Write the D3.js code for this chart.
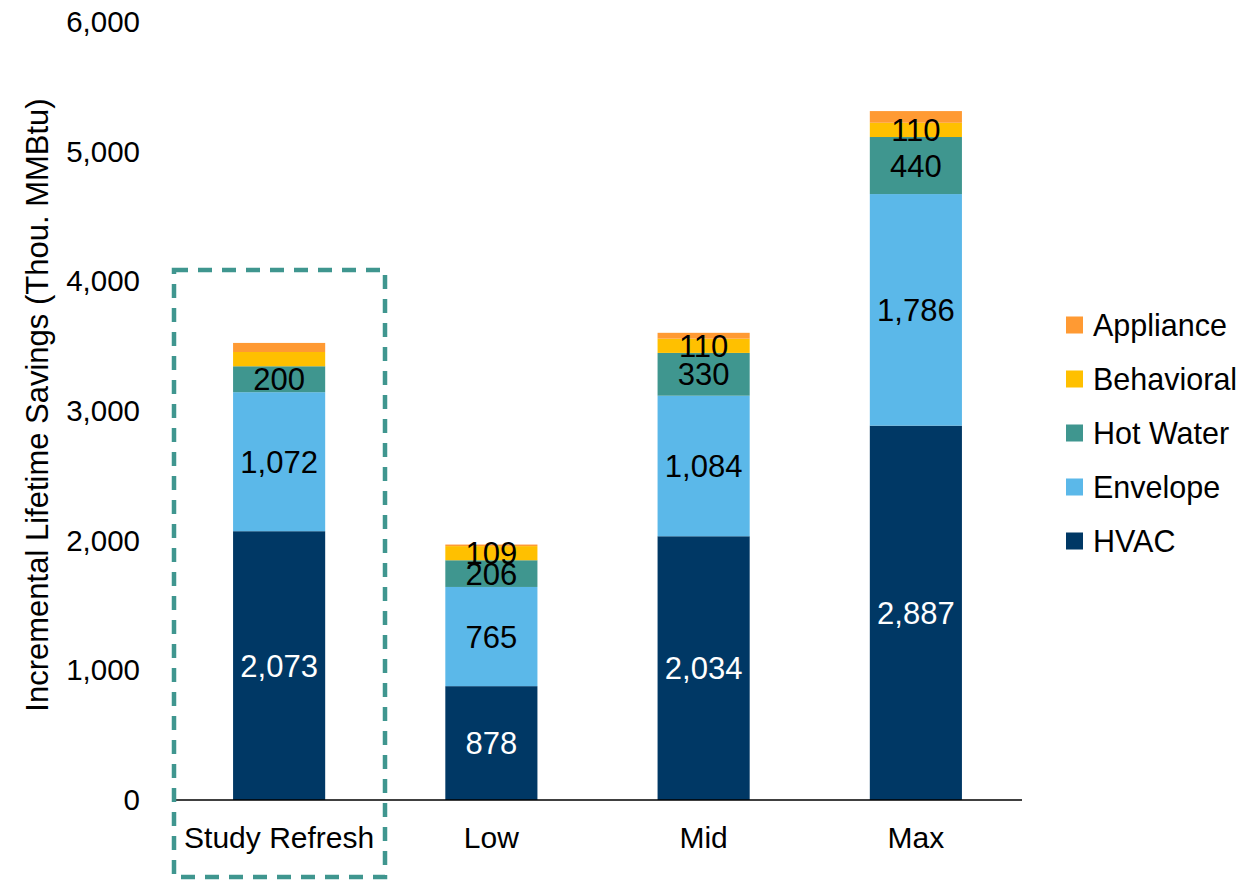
<!DOCTYPE html>
<html>
<head>
<meta charset="utf-8">
<script src="https://cdn.jsdelivr.net/npm/d3@7"></script>
<style>
  body { margin: 0; background: #fff; }
  text { font-family: "Liberation Sans", Arial, sans-serif; fill: #000; }
</style>
</head>
<body>
<div id="chart"></div>
<script>

// chart values
var scenarios = ["Study Refresh", "Low", "Mid", "Max"];
var endUses   = ["HVAC", "Envelope", "Hot Water", "Behavioral", "Appliance"];
var hvac       = [2073, 878, 2034, 2887];
var envelope   = [1072, 765, 1084, 1786];
var hotWater   = [200, 206, 330, 440];
var behavioral = [110, 109, 110, 110];
var appliance  = [70, 12, 45, 90];
// which segments carry a label (small ones are hidden in the original)
var showLabel = [
  [true, true, true, true],
  [true, true, true, true],
  [true, true, true, true],
  [false, true, true, true],
  [false, false, false, false]
];
var yTicks = [0, 1000, 2000, 3000, 4000, 5000, 6000];

var colors = ["#003865", "#5bb8e9", "#3f968f", "#ffc000", "#ff9a33"];
var seriesValues = [hvac, envelope, hotWater, behavioral, appliance];

var width = 1240, height = 881;

var svg = d3.select("#chart").append("svg")
    .attr("width", width)
    .attr("height", height);

var x = d3.scaleBand()
    .domain(scenarios)
    .range([173, 1022])
    .paddingInner(0.566)
    .paddingOuter(0.283);

var y = d3.scaleLinear()
    .domain([0, 6000])
    .range([800, 22]);

// build stack rows
var rows = scenarios.map(function(s, i) {
  var r = { scenario: s };
  endUses.forEach(function(k, j) { r[k] = seriesValues[j][i]; });
  return r;
});
var stacked = d3.stack().keys(endUses)(rows);

var fmt = d3.format(",");

// bars
var layer = svg.selectAll("g.layer")
    .data(stacked)
    .enter().append("g")
    .attr("class", "layer")
    .attr("fill", function(d, i) { return colors[i]; });

layer.selectAll("rect")
    .data(function(d) { return d; })
    .enter().append("rect")
    .attr("x", function(d) { return x(d.data.scenario); })
    .attr("width", x.bandwidth())
    .attr("y", function(d) { return y(d[1]); })
    .attr("height", function(d) { return y(d[0]) - y(d[1]); });

// segment labels
stacked.forEach(function(s, j) {
  svg.append("g").selectAll("text")
      .data(s.filter(function(d, i) { return showLabel[j][i]; }))
      .enter().append("text")
      .attr("x", function(d) { return x(d.data.scenario) + x.bandwidth() / 2; })
      .attr("y", function(d) { return (y(d[0]) + y(d[1])) / 2; })
      .attr("dy", "0.36em")
      .attr("text-anchor", "middle")
      .style("font-size", "31px")
      .style("fill", j == 0 ? "#fff" : "#000")
      .text(function(d) { return fmt(d[1] - d[0]); });
});

// y axis (labels only)
var yAxis = svg.append("g")
    .attr("transform", "translate(150,0)")
    .call(d3.axisLeft(y).tickValues(yTicks).tickFormat(fmt).tickSize(0).tickPadding(10));
yAxis.select(".domain").remove();
yAxis.selectAll("text")
    .style("font-size", "29.5px")
    .style("font-family", "'Liberation Sans', Arial, sans-serif")
    .attr("fill", "#000");

// x axis
var xAxis = svg.append("g")
    .attr("transform", "translate(0,800)")
    .call(d3.axisBottom(x).tickSize(0).tickPadding(27));
xAxis.select(".domain").attr("stroke", "#000").attr("stroke-width", 1.5)
    .attr("d", "M173,0H1022");
xAxis.selectAll("text")
    .style("font-size", "30px")
    .style("font-family", "'Liberation Sans', Arial, sans-serif")
    .attr("fill", "#000");

// y axis title
svg.append("text")
    .attr("transform", "translate(37,405) rotate(-90)")
    .attr("text-anchor", "middle")
    .attr("dy", "0.36em")
    .style("font-size", "31px")
    .text("Incremental Lifetime Savings (Thou. MMBtu)");

// dashed highlight box round the first scenario
svg.append("rect")
    .attr("x", 174)
    .attr("y", 270)
    .attr("width", 211)
    .attr("height", 607)
    .attr("fill", "none")
    .attr("stroke", "#3f968f")
    .attr("stroke-width", 4.5)
    .attr("stroke-dasharray", "14,10");

// legend
var legendX = 1066, legendY = 325, legendGap = 54, legendRect = 17;
var legend = svg.append("g")
    .selectAll("g")
    .data(endUses.slice().reverse())
    .enter().append("g")
    .attr("transform", function(d, i) { return "translate(" + legendX + "," + (legendY + i * legendGap) + ")"; });

legend.append("rect")
    .attr("x", 0)
    .attr("y", -legendRect / 2)
    .attr("width", legendRect)
    .attr("height", legendRect)
    .attr("fill", function(d) { return colors[endUses.indexOf(d)]; });

legend.append("text")
    .attr("x", 27)
    .attr("dy", "0.36em")
    .style("font-size", "30.5px")
    .text(function(d) { return d; });

</script>
</body>
</html>
